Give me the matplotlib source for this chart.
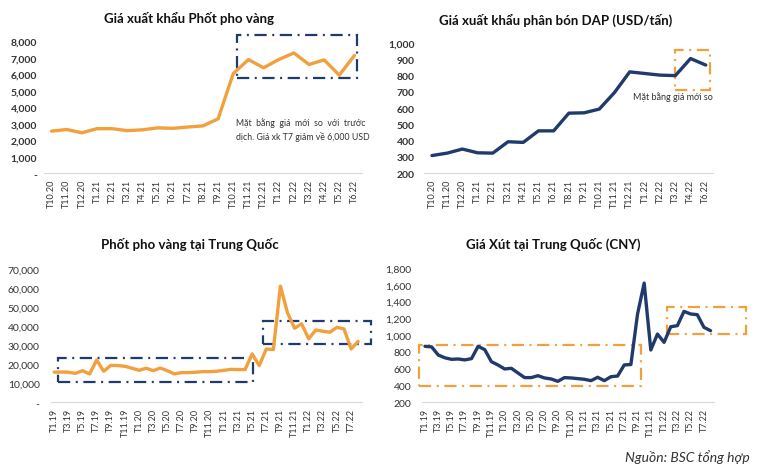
import matplotlib
matplotlib.use("Agg")
import matplotlib.pyplot as plt
from matplotlib.patches import Rectangle

plt.rcParams['font.family'] = ['Lato', 'DejaVu Sans']

# Dữ liệu
nhan_p1 = ["T10.20", "T11.20", "T12.20", "T1.21", "T2.21", "T3.21", "T4.21", "T5.21",
           "T6.21", "T7.21", "T8.21", "T9.21", "T10.21", "T11.21", "T12.21", "T1.22",
           "T2.22", "T3.22", "T4.22", "T5.22", "T6.22"]
gia_p1 = [2550, 2650, 2450, 2700, 2700, 2580, 2630, 2750, 2720, 2800, 2870, 3300,
          6050, 6900, 6400, 6900, 7300, 6600, 6880, 5950, 7150]

nhan_dap = ["T10.20", "T11.20", "T12.20", "T1.21", "T2.21", "T3.21", "T4.21", "T5.21",
            "T6.21", "T8.21", "T9.21", "T10.21", "T11.21", "T12.21", "T1.22", "T2.22",
            "T3.22", "T4.22", "T6.22"]
gia_dap = [308, 323, 348, 325, 323, 393, 389, 460, 460, 569, 571, 594, 696, 823,
           813, 803, 800, 905, 865]

nhan_tq = ["T1.19", "T2.19", "T3.19", "T4.19", "T5.19", "T6.19", "T7.19", "T8.19",
           "T9.19", "T10.19", "T11.19", "T12.19",
           "T1.20", "T2.20", "T3.20", "T4.20", "T5.20", "T6.20", "T7.20", "T8.20",
           "T9.20", "T10.20", "T11.20", "T12.20",
           "T1.21", "T2.21", "T3.21", "T4.21", "T5.21", "T6.21", "T7.21", "T8.21",
           "T9.21", "T10.21", "T11.21", "T12.21",
           "T1.22", "T2.22", "T3.22", "T4.22", "T5.22", "T6.22", "T7.22", "T8.22"]
gia_p4_tq = [15800, 15900, 15800, 15200, 16600, 14900, 22200, 16300, 19400, 19300,
             18900, 17900, 16800, 17900, 16600, 18000, 16600, 14900, 15600, 15600,
             15800, 16100, 16100, 16300, 16800, 17300, 17200, 17200, 25400, 19300,
             28000, 27700, 61000, 47000, 38900, 41200, 33300, 38000, 37300, 36800,
             39400, 38500, 28000, 32000]
gia_xut = [867, 860, 763, 730, 712, 716, 705, 720, 867, 827, 684, 644, 597, 605,
           549, 494, 494, 517, 490, 478, 450, 494, 490, 482, 474, 458, 498, 458,
           505, 513, 645, 650, 1250, 1620, 823, 1013, 914, 1100, 1113, 1283, 1252,
           1244, 1093, 1053]

CAM = "#f2a03d"
XANH = "#1f3a6d"
CHU = "#333333"
GACH = (5.5, 2.5, 0.9, 2.5)


def ve_khung(ax, x0, x1, y0, y1, mau):
    r = Rectangle((x0, y0), x1 - x0, y1 - y0, fill=False, edgecolor=mau,
                  linewidth=1.6, linestyle=(0, GACH), clip_on=False)
    ax.add_patch(r)


def dinh_dang(ax, nhan, yticks, ylabels, buoc=1, dam=False, pad_y=5):
    ax.set_xlim(-0.5, len(nhan) - 0.5)
    ax.set_ylim(yticks[0], yticks[-1])
    ax.set_xticks(range(0, len(nhan), buoc))
    ax.set_xticklabels(nhan[::buoc], rotation=90, fontsize=6.5, color=CHU)
    ax.set_yticks(yticks)
    ax.set_yticklabels(ylabels, fontsize=7.5, color=CHU,
                       fontweight="bold" if dam else "normal")
    ax.tick_params(length=0)
    ax.tick_params(axis="x", pad=4)
    ax.tick_params(axis="y", pad=pad_y)
    for s in ["top", "right", "left"]:
        ax.spines[s].set_visible(False)
    ax.spines["bottom"].set_color("#d9d9d9")
    ax.spines["bottom"].set_linewidth(0.8)


fig = plt.figure(figsize=(7.65, 4.77), dpi=100)

# Panel 1
ax1 = fig.add_axes([0.0575, 0.635, 0.4157, 0.276])
ax1.plot(range(len(gia_p1)), gia_p1, color=CAM, linewidth=2.4, solid_joinstyle="round",
         solid_capstyle="round")
dinh_dang(ax1, nhan_p1, list(range(0, 8001, 1000)),
          ["-"] + [f"{v:,}" for v in range(1000, 8001, 1000)], dam=True, pad_y=5)
ve_khung(ax1, 12.25, 20.15, 5750, 8400, XANH)
ax1.text(12.2, 3090, "Mặt  bằng  giá  mới  so  với  trước", fontsize=6.3, color=CHU,
         va="center", ha="left")
ax1.text(12.2, 2240, "dịch. Giá xk T7 giảm về 6,000 USD", fontsize=6.3, color=CHU,
         va="center", ha="left")
fig.text(0.247, 0.962, "Giá xuất khẩu Phốt pho vàng", ha="center", va="center",
         fontsize=9.5, fontweight="bold", color="#111111")

# Panel 2
ax2 = fig.add_axes([0.5547, 0.635, 0.3778, 0.2725])
ax2.plot(range(len(gia_dap)), gia_dap, color=XANH, linewidth=2.4, solid_joinstyle="round",
         solid_capstyle="round")
dinh_dang(ax2, nhan_dap, list(range(200, 1001, 100)),
          [f"{v:,}" for v in range(200, 1001, 100)], dam=True, pad_y=7)
ve_khung(ax2, 16.0, 18.3, 710, 960, CAM)
ax2.text(13.2, 674, "Mặt bằng giá mới so", fontsize=6.5, color=CHU, va="center", ha="left")
fig.text(0.726, 0.958, "Giá xuất khẩu phân bón DAP (USD/tấn)", ha="center", va="center",
         fontsize=9.5, fontweight="bold", color="#111111")

# Panel 3
ax3 = fig.add_axes([0.0663, 0.1545, 0.4065, 0.2795])
ax3.plot(range(len(gia_p4_tq)), gia_p4_tq, color=CAM, linewidth=2.4,
         solid_joinstyle="round", solid_capstyle="round")
dinh_dang(ax3, nhan_tq, list(range(0, 70001, 10000)),
          ["-"] + [f"{v:,}" for v in range(10000, 70001, 10000)], buoc=2, pad_y=8)
ve_khung(ax3, 0.6, 28.1, 10500, 23100, XANH)
ve_khung(ax3, 29.6, 44.85, 30500, 42900, XANH)
fig.text(0.248, 0.487, "Phốt pho vàng tại Trung Quốc", ha="center", va="center",
         fontsize=9.5, fontweight="bold", color="#111111")

# Panel 4
ax4 = fig.add_axes([0.5512, 0.1545, 0.382, 0.2816])
ax4.plot(range(len(gia_xut)), gia_xut, color=XANH, linewidth=2.4,
         solid_joinstyle="round", solid_capstyle="round")
dinh_dang(ax4, nhan_tq, list(range(200, 1801, 200)),
          [f"{v:,}" for v in range(200, 1801, 200)], buoc=2, pad_y=7.5)
ve_khung(ax4, -0.95, 32.45, 400, 885, CAM)
ve_khung(ax4, 36.5, 48.3, 1013, 1330, CAM)
fig.text(0.723, 0.487, "Giá Xút tại Trung Quốc (CNY)", ha="center", va="center",
         fontsize=9.5, fontweight="bold", color="#111111")

fig.text(0.98, 0.042, "Nguồn: BSC tổng hợp", ha="right", va="center", fontsize=10,
         fontstyle="italic", color=CHU)

fig.savefig("out.png", dpi=100)
